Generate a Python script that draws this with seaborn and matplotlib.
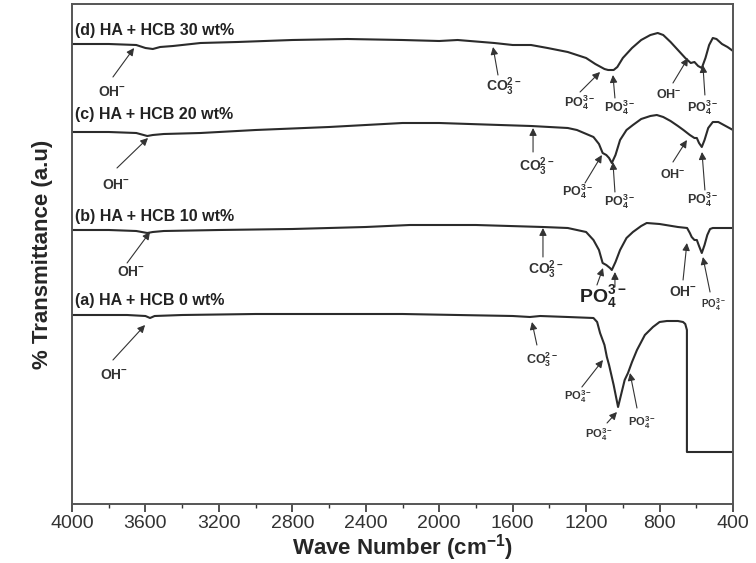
import matplotlib
matplotlib.use("Agg")
import matplotlib.pyplot as plt
import seaborn as sns
import pandas as pd

# ---------------- data ----------------
w_d = [4000, 3800, 3650, 3600, 3560, 3520, 3450, 3300, 3100, 2800, 2500, 2200, 2000, 1900, 1700,
       1600, 1500, 1410, 1300, 1200, 1150, 1100, 1080, 1050, 1030, 1000, 950, 900, 850, 810, 780,
       740, 700, 660, 630, 610, 590, 570, 550, 530, 510, 490, 460, 430, 400]
t_d = [460, 460, 459, 456, 455, 457, 458, 461, 462, 464, 465, 464, 463, 464, 461,
       459, 459, 456, 452, 446, 440, 435, 434, 434, 437, 446, 456, 464, 469, 471, 469,
       462, 454, 446, 441, 442, 438, 436, 446, 459, 466, 465, 460, 457, 453]

w_c = [4000, 3800, 3650, 3590, 3560, 3500, 3300, 3000, 2600, 2200, 2000, 1670, 1500, 1300, 1250,
       1160, 1130, 1110, 1090, 1075, 1060, 1040, 1015, 980, 945, 900, 850, 815, 780, 740, 700,
       670, 635, 610, 597, 585, 570, 555, 535, 510, 480, 450, 420, 400]
t_c = [372, 372, 371, 368, 369, 370, 371, 374, 377, 381, 381, 379, 378, 376, 374,
       367, 360, 351, 349, 346, 341, 349, 364, 374, 379, 385, 388, 389, 387, 383, 378,
       374, 369, 366, 366, 361, 357, 364, 376, 382, 382, 379, 376, 374]

w_b = [4000, 3800, 3650, 3590, 3560, 3500, 3200, 2800, 2400, 2160, 1800, 1435, 1300, 1200, 1160,
       1130, 1110, 1090, 1070, 1060, 1040, 1015, 980, 945, 900, 870, 800, 700, 650, 635, 625,
       610, 597, 585, 570, 555, 540, 525, 510, 450, 400]
t_b = [274, 274, 273, 271, 272, 273, 274, 275, 277, 279, 279, 277, 276, 272, 264,
       254, 241, 239, 236, 234, 242, 254, 266, 272, 278, 281, 280, 277, 276, 271, 267,
       264, 264, 258, 251, 259, 269, 275, 276, 276, 276]

w_a = [4000, 3700, 3600, 3575, 3550, 3400, 3000, 2600, 2200, 1900, 1600, 1506, 1450, 1300, 1160,
       1140, 1124, 1100, 1087, 1075, 1050, 1026, 1010, 990, 972, 950, 923, 880, 836, 800, 760,
       700, 672, 660, 651, 651, 400]
t_a = [189, 189, 188, 186, 188, 189, 190, 190, 190, 189, 188, 187, 188, 187, 186,
       182, 171, 159, 147, 139, 119, 97, 109, 124, 131, 142, 154, 169, 177, 182, 183,
       183, 182, 180, 174, 52, 52]

series_labels = ["(d) HA + HCB 30 wt%", "(c) HA + HCB 20 wt%",
                 "(b) HA + HCB 10 wt%", "(a) HA + HCB 0 wt%"]
x_ticks = [4000, 3600, 3200, 2800, 2400, 2000, 1600, 1200, 800, 400]

# ---------------- style ----------------
sns.set_style("ticks")
plt.rcParams["font.family"] = ["Liberation Sans", "DejaVu Sans"]
plt.rcParams["mathtext.fontset"] = "custom"
plt.rcParams["mathtext.rm"] = "Liberation Sans:bold"
plt.rcParams["mathtext.bf"] = "Liberation Sans:bold"
plt.rcParams["mathtext.it"] = "Liberation Sans:bold"
plt.rcParams["mathtext.default"] = "rm"

fig = plt.figure(figsize=(7.56, 5.63), dpi=100)
ax = fig.add_axes([72 / 756, (563 - 504) / 563, (733 - 72) / 756, 500 / 563])

frames = []
for lab, w, t in [(series_labels[0], w_d, t_d), (series_labels[1], w_c, t_c),
                  (series_labels[2], w_b, t_b), (series_labels[3], w_a, t_a)]:
    frames.append(pd.DataFrame({"wn": w, "T": t, "s": lab}))
df = pd.concat(frames, ignore_index=True)

for lab in series_labels:
    sub = df[df["s"] == lab]
    sns.lineplot(data=sub, x="wn", y="T", estimator=None, sort=False, color="#2b2b2b",
                 lw=1.5, ax=ax, legend=False)

ax.set_xlim(4000, 400)
ax.set_ylim(0, 500)
ax.set_xticks(x_ticks)
ax.set_xticks(range(3800, 400, -400), minor=True)
ax.set_yticks([])
ax.tick_params(axis="x", which="major", length=6, width=1.2, labelsize=14, colors="#333333",
               direction="out", pad=2)
ax.tick_params(axis="x", which="minor", length=3, width=1.0, direction="out", colors="#333333")
for sp in ax.spines.values():
    sp.set_visible(True)
    sp.set_color("#555555")
    sp.set_linewidth(1.4)

ax.set_xlabel("Wave Number (cm$^{-1}$)", fontsize=16, fontweight="bold", labelpad=0)
ax.set_ylabel("% Transmittance (a.u)", fontsize=16, fontweight="bold", labelpad=14)

# series labels
for lab, y in zip(series_labels, [474, 389, 287, 204]):
    ax.text(3985, y, lab, fontsize=11.5, fontweight="bold", ha="left", va="center",
            color="#222222")

OH = "OH$^{-}$"
CO = "CO$_{3}^{2-}$"
PO = "PO$_{4}^{3-}$"

# (label, text pos, tail, tip, fontsize)
notes = [
    # d
    (OH, (3782, 412), (3777, 427), (3662, 456), 10),
    (CO, (1647, 417), (1680, 429), (1707, 457), 10),
    (PO, (1233, 401), (1233, 412), (1124, 432), 9),
    (PO, (1016, 396), (1043, 406), (1054, 429), 9),
    (OH, (749, 409), (727, 421), (645, 446), 9),
    (PO, (564, 396), (553, 409), (564, 439), 9),
    # c
    (OH, (3760, 319), (3755, 336), (3586, 366), 10),
    (CO, (1468, 337), (1489, 352), (1489, 376), 10),
    (PO, (1244, 312), (1206, 321), (1114, 349), 9),
    (PO, (1016, 302), (1043, 312), (1054, 342), 9),
    (OH, (727, 329), (727, 342), (651, 364), 9),
    (PO, (564, 304), (553, 314), (569, 352), 9),
    # b
    (OH, (3679, 232), (3700, 241), (3575, 272), 10),
    (CO, (1419, 234), (1435, 247), (1435, 276), 10),
    (OH, (672, 212), (672, 224), (651, 261), 10),
    (PO, (509, 199), (525, 212), (564, 247), 7),
    # a
    (OH, (3771, 129), (3777, 144), (3602, 179), 10),
    (CO, (1440, 144), (1468, 159), (1495, 182), 9),
    (PO, (1244, 107), (1223, 117), (1108, 144), 8),
    (PO, (1130, 69), (1086, 81), (1032, 92), 8),
    (PO, (896, 81), (923, 96), (961, 131), 8),
]
arrow_kw = dict(arrowstyle="-|>", color="#333333", lw=0.8, mutation_scale=11,
                shrinkA=0, shrinkB=0)
for txt, tpos, tail, tip, fs in notes:
    ax.text(tpos[0], tpos[1], txt, fontsize=fs, fontweight="bold", ha="center",
            va="center", color="#333333")
    ax.annotate("", xy=tip, xytext=tail, arrowprops=arrow_kw)

# big PO4 label in (b) with two arrows
ax.text(1108, 207, PO, fontsize=14, fontweight="bold", ha="center", va="center",
        color="#222222")
ax.annotate("", xy=(1108, 236), xytext=(1141, 219), arrowprops=arrow_kw)
ax.annotate("", xy=(1043, 232), xytext=(1043, 217), arrowprops=arrow_kw)

fig.savefig("out.png", dpi=100)
